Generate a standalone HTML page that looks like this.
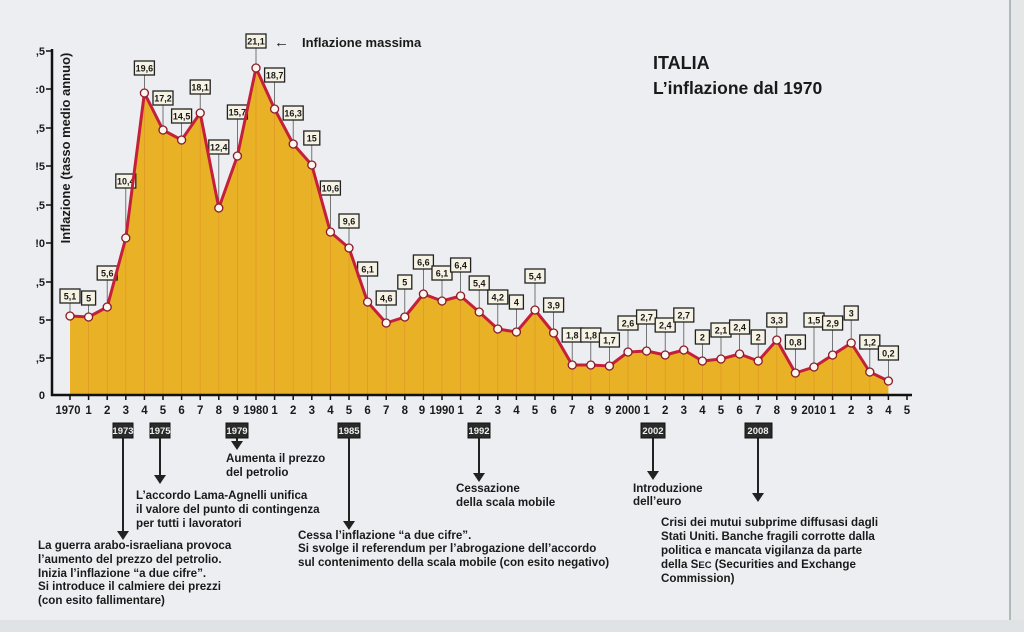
<!DOCTYPE html>
<html><head><meta charset="utf-8"><style>
html,body{margin:0;padding:0;width:1024px;height:632px;overflow:hidden;background:#eceef1;}
svg{display:block}
text{font-family:"Liberation Sans",sans-serif;font-weight:bold;fill:#1a1a1a}
.lb rect{fill:#f6f2e4;stroke:#222;stroke-width:1.3}
.lb line{stroke:#555;stroke-width:0.8}
.lb text{font-size:9px;text-anchor:middle}
.yr{font-size:11.5px;text-anchor:middle}
.ev{font-size:11.6px}
.bx rect{fill:#2a2a2a;stroke:#111}
.bx text{fill:#eee;font-size:9.5px;text-anchor:middle}
.ar{stroke:#222;stroke-width:2}
</style></head><body>
<svg width="1024" height="632" viewBox="0 0 1024 632">
<rect x="0" y="0" width="1024" height="632" fill="#eceef1"/>
<rect x="1010" y="0" width="14" height="632" fill="#e4e6e8"/>
<line x1="1010" y1="0" x2="1010" y2="620" stroke="#9aa" stroke-width="1.5"/>
<rect x="0" y="620" width="1024" height="12" fill="#dfe3e6"/>

<!-- fill -->
<polygon fill="#e9b226" points="70,395 70,316 88.6,317 107.2,307 125.8,238 144.4,93 163,130 181.6,140 200.2,113 218.8,208 237.4,156 256,68 274.6,109 293.2,144 311.8,165 330.4,232 349,248 367.6,302 386.2,323 404.8,317 423.4,294 442,301 460.6,296 479.2,312 497.8,329 516.4,332 535,310 553.6,333 572.2,365 590.8,365 609.4,366 628,352 646.6,351 665.2,355 683.8,350 702.4,361 721,359 739.6,354 758.2,361 776.8,340 795.4,373 814,367 832.6,355 851.2,343 869.8,372 888.4,381 888.4,395"/>
<g stroke="#e0852a" stroke-width="0.8" opacity="0.6">
<line x1="88.6" y1="317" x2="88.6" y2="395"/><line x1="107.2" y1="307" x2="107.2" y2="395"/><line x1="125.8" y1="238" x2="125.8" y2="395"/><line x1="144.4" y1="93" x2="144.4" y2="395"/><line x1="163" y1="130" x2="163" y2="395"/><line x1="181.6" y1="140" x2="181.6" y2="395"/><line x1="200.2" y1="113" x2="200.2" y2="395"/><line x1="218.8" y1="208" x2="218.8" y2="395"/><line x1="237.4" y1="156" x2="237.4" y2="395"/><line x1="256" y1="68" x2="256" y2="395"/><line x1="274.6" y1="109" x2="274.6" y2="395"/><line x1="293.2" y1="144" x2="293.2" y2="395"/><line x1="311.8" y1="165" x2="311.8" y2="395"/><line x1="330.4" y1="232" x2="330.4" y2="395"/><line x1="349" y1="248" x2="349" y2="395"/><line x1="367.6" y1="302" x2="367.6" y2="395"/><line x1="386.2" y1="323" x2="386.2" y2="395"/><line x1="404.8" y1="317" x2="404.8" y2="395"/><line x1="423.4" y1="294" x2="423.4" y2="395"/><line x1="442" y1="301" x2="442" y2="395"/><line x1="460.6" y1="296" x2="460.6" y2="395"/><line x1="479.2" y1="312" x2="479.2" y2="395"/><line x1="497.8" y1="329" x2="497.8" y2="395"/><line x1="516.4" y1="332" x2="516.4" y2="395"/><line x1="535" y1="310" x2="535" y2="395"/><line x1="553.6" y1="333" x2="553.6" y2="395"/><line x1="572.2" y1="365" x2="572.2" y2="395"/><line x1="590.8" y1="365" x2="590.8" y2="395"/><line x1="609.4" y1="366" x2="609.4" y2="395"/><line x1="628" y1="352" x2="628" y2="395"/><line x1="646.6" y1="351" x2="646.6" y2="395"/><line x1="665.2" y1="355" x2="665.2" y2="395"/><line x1="683.8" y1="350" x2="683.8" y2="395"/><line x1="702.4" y1="361" x2="702.4" y2="395"/><line x1="721" y1="359" x2="721" y2="395"/><line x1="739.6" y1="354" x2="739.6" y2="395"/><line x1="758.2" y1="361" x2="758.2" y2="395"/><line x1="776.8" y1="340" x2="776.8" y2="395"/><line x1="795.4" y1="373" x2="795.4" y2="395"/><line x1="814" y1="367" x2="814" y2="395"/><line x1="832.6" y1="355" x2="832.6" y2="395"/><line x1="851.2" y1="343" x2="851.2" y2="395"/><line x1="869.8" y1="372" x2="869.8" y2="395"/>
</g>

<!-- labels -->
<g class="lb">
<line x1="70" y1="303" x2="70" y2="316"/><rect x="60" y="289" width="20" height="14"/><text x="70" y="299.5">5,1</text>
<line x1="88.6" y1="305" x2="88.6" y2="317"/><rect x="81.6" y="291" width="14" height="14"/><text x="88.6" y="301.5">5</text>
<line x1="107.2" y1="280" x2="107.2" y2="307"/><rect x="97.2" y="266" width="20" height="14"/><text x="107.2" y="276.5">5,6</text>
<line x1="125.8" y1="188" x2="125.8" y2="238"/><rect x="115.8" y="174" width="20" height="14"/><text x="125.8" y="184.5">10,4</text>
<line x1="144.4" y1="75" x2="144.4" y2="93"/><rect x="134.4" y="61" width="20" height="14"/><text x="144.4" y="71.5">19,6</text>
<line x1="163" y1="105" x2="163" y2="130"/><rect x="153" y="91" width="20" height="14"/><text x="163" y="101.5">17,2</text>
<line x1="181.6" y1="123" x2="181.6" y2="140"/><rect x="171.6" y="109" width="20" height="14"/><text x="181.6" y="119.5">14,5</text>
<line x1="200.2" y1="94" x2="200.2" y2="113"/><rect x="190.2" y="80" width="20" height="14"/><text x="200.2" y="90.5">18,1</text>
<line x1="218.8" y1="154" x2="218.8" y2="208"/><rect x="208.8" y="140" width="20" height="14"/><text x="218.8" y="150.5">12,4</text>
<line x1="237.4" y1="119" x2="237.4" y2="156"/><rect x="227.4" y="105" width="20" height="14"/><text x="237.4" y="115.5">15,7</text>
<line x1="256" y1="48" x2="256" y2="68"/><rect x="246" y="34" width="20" height="14"/><text x="256" y="44.5">21,1</text>
<line x1="274.6" y1="82" x2="274.6" y2="109"/><rect x="264.6" y="68" width="20" height="14"/><text x="274.6" y="78.5">18,7</text>
<line x1="293.2" y1="120" x2="293.2" y2="144"/><rect x="283.2" y="106" width="20" height="14"/><text x="293.2" y="116.5">16,3</text>
<line x1="311.8" y1="145" x2="311.8" y2="165"/><rect x="303.8" y="131" width="16" height="14"/><text x="311.8" y="141.5">15</text>
<line x1="330.4" y1="195" x2="330.4" y2="232"/><rect x="320.4" y="181" width="20" height="14"/><text x="330.4" y="191.5">10,6</text>
<line x1="349" y1="228" x2="349" y2="248"/><rect x="339" y="214" width="20" height="14"/><text x="349" y="224.5">9,6</text>
<line x1="367.6" y1="276" x2="367.6" y2="302"/><rect x="357.6" y="262" width="20" height="14"/><text x="367.6" y="272.5">6,1</text>
<line x1="386.2" y1="305" x2="386.2" y2="323"/><rect x="376.2" y="291" width="20" height="14"/><text x="386.2" y="301.5">4,6</text>
<line x1="404.8" y1="289" x2="404.8" y2="317"/><rect x="397.8" y="275" width="14" height="14"/><text x="404.8" y="285.5">5</text>
<line x1="423.4" y1="269" x2="423.4" y2="294"/><rect x="413.4" y="255" width="20" height="14"/><text x="423.4" y="265.5">6,6</text>
<line x1="442" y1="280" x2="442" y2="301"/><rect x="432" y="266" width="20" height="14"/><text x="442" y="276.5">6,1</text>
<line x1="460.6" y1="272" x2="460.6" y2="296"/><rect x="450.6" y="258" width="20" height="14"/><text x="460.6" y="268.5">6,4</text>
<line x1="479.2" y1="290" x2="479.2" y2="312"/><rect x="469.2" y="276" width="20" height="14"/><text x="479.2" y="286.5">5,4</text>
<line x1="497.8" y1="304" x2="497.8" y2="329"/><rect x="487.8" y="290" width="20" height="14"/><text x="497.8" y="300.5">4,2</text>
<line x1="516.4" y1="309" x2="516.4" y2="332"/><rect x="509.4" y="295" width="14" height="14"/><text x="516.4" y="305.5">4</text>
<line x1="535" y1="283" x2="535" y2="310"/><rect x="525" y="269" width="20" height="14"/><text x="535" y="279.5">5,4</text>
<line x1="553.6" y1="312" x2="553.6" y2="333"/><rect x="543.6" y="298" width="20" height="14"/><text x="553.6" y="308.5">3,9</text>
<line x1="572.2" y1="342" x2="572.2" y2="365"/><rect x="562.2" y="328" width="20" height="14"/><text x="572.2" y="338.5">1,8</text>
<line x1="590.8" y1="342" x2="590.8" y2="365"/><rect x="580.8" y="328" width="20" height="14"/><text x="590.8" y="338.5">1,8</text>
<line x1="609.4" y1="347" x2="609.4" y2="366"/><rect x="599.4" y="333" width="20" height="14"/><text x="609.4" y="343.5">1,7</text>
<line x1="628" y1="330" x2="628" y2="352"/><rect x="618" y="316" width="20" height="14"/><text x="628" y="326.5">2,6</text>
<line x1="646.6" y1="324" x2="646.6" y2="351"/><rect x="636.6" y="310" width="20" height="14"/><text x="646.6" y="320.5">2,7</text>
<line x1="665.2" y1="332" x2="665.2" y2="355"/><rect x="655.2" y="318" width="20" height="14"/><text x="665.2" y="328.5">2,4</text>
<line x1="683.8" y1="322" x2="683.8" y2="350"/><rect x="673.8" y="308" width="20" height="14"/><text x="683.8" y="318.5">2,7</text>
<line x1="702.4" y1="344" x2="702.4" y2="361"/><rect x="695.4" y="330" width="14" height="14"/><text x="702.4" y="340.5">2</text>
<line x1="721" y1="337" x2="721" y2="359"/><rect x="711" y="323" width="20" height="14"/><text x="721" y="333.5">2,1</text>
<line x1="739.6" y1="334" x2="739.6" y2="354"/><rect x="729.6" y="320" width="20" height="14"/><text x="739.6" y="330.5">2,4</text>
<line x1="758.2" y1="344" x2="758.2" y2="361"/><rect x="751.2" y="330" width="14" height="14"/><text x="758.2" y="340.5">2</text>
<line x1="776.8" y1="327" x2="776.8" y2="340"/><rect x="766.8" y="313" width="20" height="14"/><text x="776.8" y="323.5">3,3</text>
<line x1="795.4" y1="349" x2="795.4" y2="373"/><rect x="785.4" y="335" width="20" height="14"/><text x="795.4" y="345.5">0,8</text>
<line x1="814" y1="327" x2="814" y2="367" stroke="#111" stroke-width="1.5"/><rect x="804" y="313" width="20" height="14"/><text x="814" y="323.5">1,5</text>
<line x1="832.6" y1="330" x2="832.6" y2="355"/><rect x="822.6" y="316" width="20" height="14"/><text x="832.6" y="326.5">2,9</text>
<line x1="851.2" y1="320" x2="851.2" y2="343"/><rect x="844.2" y="306" width="14" height="14"/><text x="851.2" y="316.5">3</text>
<line x1="869.8" y1="349" x2="869.8" y2="372"/><rect x="859.8" y="335" width="20" height="14"/><text x="869.8" y="345.5">1,2</text>
<line x1="888.4" y1="360" x2="888.4" y2="381"/><rect x="878.4" y="346" width="20" height="14"/><text x="888.4" y="356.5">0,2</text>
</g>

<!-- series line -->
<polyline fill="none" stroke="#c4203c" stroke-width="3" stroke-linejoin="round" points="70,316 88.6,317 107.2,307 125.8,238 144.4,93 163,130 181.6,140 200.2,113 218.8,208 237.4,156 256,68 274.6,109 293.2,144 311.8,165 330.4,232 349,248 367.6,302 386.2,323 404.8,317 423.4,294 442,301 460.6,296 479.2,312 497.8,329 516.4,332 535,310 553.6,333 572.2,365 590.8,365 609.4,366 628,352 646.6,351 665.2,355 683.8,350 702.4,361 721,359 739.6,354 758.2,361 776.8,340 795.4,373 814,367 832.6,355 851.2,343 869.8,372 888.4,381"/>
<g fill="#fbf6ee" stroke="#8a1a2a" stroke-width="1.3">
<circle cx="70" cy="316" r="4"/><circle cx="88.6" cy="317" r="4"/><circle cx="107.2" cy="307" r="4"/><circle cx="125.8" cy="238" r="4"/><circle cx="144.4" cy="93" r="4"/><circle cx="163" cy="130" r="4"/><circle cx="181.6" cy="140" r="4"/><circle cx="200.2" cy="113" r="4"/><circle cx="218.8" cy="208" r="4"/><circle cx="237.4" cy="156" r="4"/><circle cx="256" cy="68" r="4"/><circle cx="274.6" cy="109" r="4"/><circle cx="293.2" cy="144" r="4"/><circle cx="311.8" cy="165" r="4"/><circle cx="330.4" cy="232" r="4"/><circle cx="349" cy="248" r="4"/><circle cx="367.6" cy="302" r="4"/><circle cx="386.2" cy="323" r="4"/><circle cx="404.8" cy="317" r="4"/><circle cx="423.4" cy="294" r="4"/><circle cx="442" cy="301" r="4"/><circle cx="460.6" cy="296" r="4"/><circle cx="479.2" cy="312" r="4"/><circle cx="497.8" cy="329" r="4"/><circle cx="516.4" cy="332" r="4"/><circle cx="535" cy="310" r="4"/><circle cx="553.6" cy="333" r="4"/><circle cx="572.2" cy="365" r="4"/><circle cx="590.8" cy="365" r="4"/><circle cx="609.4" cy="366" r="4"/><circle cx="628" cy="352" r="4"/><circle cx="646.6" cy="351" r="4"/><circle cx="665.2" cy="355" r="4"/><circle cx="683.8" cy="350" r="4"/><circle cx="702.4" cy="361" r="4"/><circle cx="721" cy="359" r="4"/><circle cx="739.6" cy="354" r="4"/><circle cx="758.2" cy="361" r="4"/><circle cx="776.8" cy="340" r="4"/><circle cx="795.4" cy="373" r="4"/><circle cx="814" cy="367" r="4"/><circle cx="832.6" cy="355" r="4"/><circle cx="851.2" cy="343" r="4"/><circle cx="869.8" cy="372" r="4"/><circle cx="888.4" cy="381" r="4"/>
</g>

<!-- axes -->
<line x1="52" y1="49" x2="52" y2="396" stroke="#111" stroke-width="2.5"/>
<line x1="51" y1="395" x2="912" y2="395" stroke="#111" stroke-width="2.5"/>
<g stroke="#111" stroke-width="1.5">
<line x1="46" y1="51" x2="52" y2="51"/><line x1="46" y1="89" x2="52" y2="89"/><line x1="46" y1="128" x2="52" y2="128"/><line x1="46" y1="166" x2="52" y2="166"/><line x1="46" y1="205" x2="52" y2="205"/><line x1="46" y1="243" x2="52" y2="243"/><line x1="46" y1="282" x2="52" y2="282"/><line x1="46" y1="320" x2="52" y2="320"/><line x1="46" y1="358" x2="52" y2="358"/>
</g>
<g font-size="11" text-anchor="end">
<text x="45" y="55">,5</text><text x="45" y="93">:0</text><text x="45" y="132">,5</text><text x="45" y="170">!5</text><text x="45" y="209">,5</text><text x="45" y="247">!0</text><text x="45" y="286">,5</text><text x="45" y="324">5</text><text x="45" y="362">,5</text><text x="45" y="399">0</text>
</g>
<g stroke="#111" stroke-width="1.5">
<line x1="70" y1="395" x2="70" y2="400"/><line x1="88.6" y1="395" x2="88.6" y2="400"/><line x1="107.2" y1="395" x2="107.2" y2="400"/><line x1="125.8" y1="395" x2="125.8" y2="400"/><line x1="144.4" y1="395" x2="144.4" y2="400"/><line x1="163" y1="395" x2="163" y2="400"/><line x1="181.6" y1="395" x2="181.6" y2="400"/><line x1="200.2" y1="395" x2="200.2" y2="400"/><line x1="218.8" y1="395" x2="218.8" y2="400"/><line x1="237.4" y1="395" x2="237.4" y2="400"/><line x1="256" y1="395" x2="256" y2="400"/><line x1="274.6" y1="395" x2="274.6" y2="400"/><line x1="293.2" y1="395" x2="293.2" y2="400"/><line x1="311.8" y1="395" x2="311.8" y2="400"/><line x1="330.4" y1="395" x2="330.4" y2="400"/><line x1="349" y1="395" x2="349" y2="400"/><line x1="367.6" y1="395" x2="367.6" y2="400"/><line x1="386.2" y1="395" x2="386.2" y2="400"/><line x1="404.8" y1="395" x2="404.8" y2="400"/><line x1="423.4" y1="395" x2="423.4" y2="400"/><line x1="442" y1="395" x2="442" y2="400"/><line x1="460.6" y1="395" x2="460.6" y2="400"/><line x1="479.2" y1="395" x2="479.2" y2="400"/><line x1="497.8" y1="395" x2="497.8" y2="400"/><line x1="516.4" y1="395" x2="516.4" y2="400"/><line x1="535" y1="395" x2="535" y2="400"/><line x1="553.6" y1="395" x2="553.6" y2="400"/><line x1="572.2" y1="395" x2="572.2" y2="400"/><line x1="590.8" y1="395" x2="590.8" y2="400"/><line x1="609.4" y1="395" x2="609.4" y2="400"/><line x1="628" y1="395" x2="628" y2="400"/><line x1="646.6" y1="395" x2="646.6" y2="400"/><line x1="665.2" y1="395" x2="665.2" y2="400"/><line x1="683.8" y1="395" x2="683.8" y2="400"/><line x1="702.4" y1="395" x2="702.4" y2="400"/><line x1="721" y1="395" x2="721" y2="400"/><line x1="739.6" y1="395" x2="739.6" y2="400"/><line x1="758.2" y1="395" x2="758.2" y2="400"/><line x1="776.8" y1="395" x2="776.8" y2="400"/><line x1="795.4" y1="395" x2="795.4" y2="400"/><line x1="814" y1="395" x2="814" y2="400"/><line x1="832.6" y1="395" x2="832.6" y2="400"/><line x1="851.2" y1="395" x2="851.2" y2="400"/><line x1="869.8" y1="395" x2="869.8" y2="400"/><line x1="888.4" y1="395" x2="888.4" y2="400"/><line x1="907" y1="395" x2="907" y2="400"/>
</g>
<g class="yr">
<text x="68" y="414" textLength="25" lengthAdjust="spacingAndGlyphs">1970</text><text x="88.6" y="414">1</text><text x="107.2" y="414">2</text><text x="125.8" y="414">3</text><text x="144.4" y="414">4</text><text x="163" y="414">5</text><text x="181.6" y="414">6</text><text x="200.2" y="414">7</text><text x="218.8" y="414">8</text><text x="236" y="414">9</text><text x="256" y="414" textLength="25" lengthAdjust="spacingAndGlyphs">1980</text><text x="274.6" y="414">1</text><text x="293.2" y="414">2</text><text x="311.8" y="414">3</text><text x="330.4" y="414">4</text><text x="349" y="414">5</text><text x="367.6" y="414">6</text><text x="386.2" y="414">7</text><text x="404.8" y="414">8</text><text x="422" y="414">9</text><text x="442" y="414" textLength="25" lengthAdjust="spacingAndGlyphs">1990</text><text x="460.6" y="414">1</text><text x="479.2" y="414">2</text><text x="497.8" y="414">3</text><text x="516.4" y="414">4</text><text x="535" y="414">5</text><text x="553.6" y="414">6</text><text x="572.2" y="414">7</text><text x="590.8" y="414">8</text><text x="608" y="414">9</text><text x="628" y="414" textLength="25" lengthAdjust="spacingAndGlyphs">2000</text><text x="646.6" y="414">1</text><text x="665.2" y="414">2</text><text x="683.8" y="414">3</text><text x="702.4" y="414">4</text><text x="721" y="414">5</text><text x="739.6" y="414">6</text><text x="758.2" y="414">7</text><text x="776.8" y="414">8</text><text x="794" y="414">9</text><text x="814" y="414" textLength="25" lengthAdjust="spacingAndGlyphs">2010</text><text x="832.6" y="414">1</text><text x="851.2" y="414">2</text><text x="869.8" y="414">3</text><text x="888.4" y="414">4</text><text x="907" y="414">5</text>
</g>

<text transform="translate(70,148) rotate(-90)" font-size="13" text-anchor="middle">Inflazione (tasso medio annuo)</text>
<text x="274" y="47" font-size="15">←</text>
<text x="302" y="47" font-size="13">Inflazione massima</text>
<text x="653" y="69" font-size="18">ITALIA</text>
<text x="653" y="94" font-size="17.5">L’inflazione dal 1970</text>

<!-- event boxes and arrows -->
<g class="ar">
<line x1="123" y1="437" x2="123" y2="533"/><line x1="160" y1="437" x2="160" y2="477"/><line x1="237" y1="437" x2="237" y2="443"/><line x1="349" y1="437" x2="349" y2="523"/><line x1="479" y1="437" x2="479" y2="475"/><line x1="653" y1="437" x2="653" y2="473"/><line x1="758" y1="437" x2="758" y2="495"/>
</g>
<g fill="#222">
<polygon points="117,531 129,531 123,540"/><polygon points="154,475 166,475 160,484"/><polygon points="231,441 243,441 237,450"/><polygon points="343,521 355,521 349,530"/><polygon points="473,473 485,473 479,482"/><polygon points="647,471 659,471 653,480"/><polygon points="752,493 764,493 758,502"/>
</g>
<g class="bx">
<rect x="113" y="423" width="20" height="15"/><text x="123" y="434">1973</text>
<rect x="150" y="423" width="20" height="15"/><text x="160" y="434">1975</text>
<rect x="226" y="423" width="22" height="15"/><text x="237" y="434">1979</text>
<rect x="338" y="423" width="22" height="15"/><text x="349" y="434">1985</text>
<rect x="468" y="423" width="22" height="15"/><text x="479" y="434">1992</text>
<rect x="641" y="423" width="24" height="15"/><text x="653" y="434">2002</text>
<rect x="745" y="423" width="27" height="15"/><text x="758" y="434">2008</text>
</g>

<g class="ev">
<text x="226" y="462">Aumenta il prezzo</text>
<text x="226" y="476">del petrolio</text>
<text x="136" y="499">L’accordo Lama-Agnelli unifica</text>
<text x="136" y="513">il valore del punto di contingenza</text>
<text x="136" y="527">per tutti i lavoratori</text>
<text x="38" y="549">La guerra arabo-israeliana provoca</text>
<text x="38" y="563">l’aumento del prezzo del petrolio.</text>
<text x="38" y="577">Inizia l’inflazione “a due cifre”.</text>
<text x="38" y="590">Si introduce il calmiere dei prezzi</text>
<text x="38" y="604">(con esito fallimentare)</text>
<text x="298" y="539">Cessa l’inflazione “a due cifre”.</text>
<text x="298" y="552">Si svolge il referendum per l’abrogazione dell’accordo</text>
<text x="298" y="566">sul contenimento della scala mobile (con esito negativo)</text>
<text x="456" y="492">Cessazione</text>
<text x="456" y="506">della scala mobile</text>
<text x="633" y="492">Introduzione</text>
<text x="633" y="505">dell’euro</text>
<text x="661" y="526">Crisi dei mutui subprime diffusasi dagli</text>
<text x="661" y="540">Stati Uniti. Banche fragili corrotte dalla</text>
<text x="661" y="554">politica e mancata vigilanza da parte</text>
<text x="661" y="568">della S<tspan font-size="9.5">EC</tspan> (Securities and Exchange</text>
<text x="661" y="582">Commission)</text>
</g>
</svg>
</body></html>
